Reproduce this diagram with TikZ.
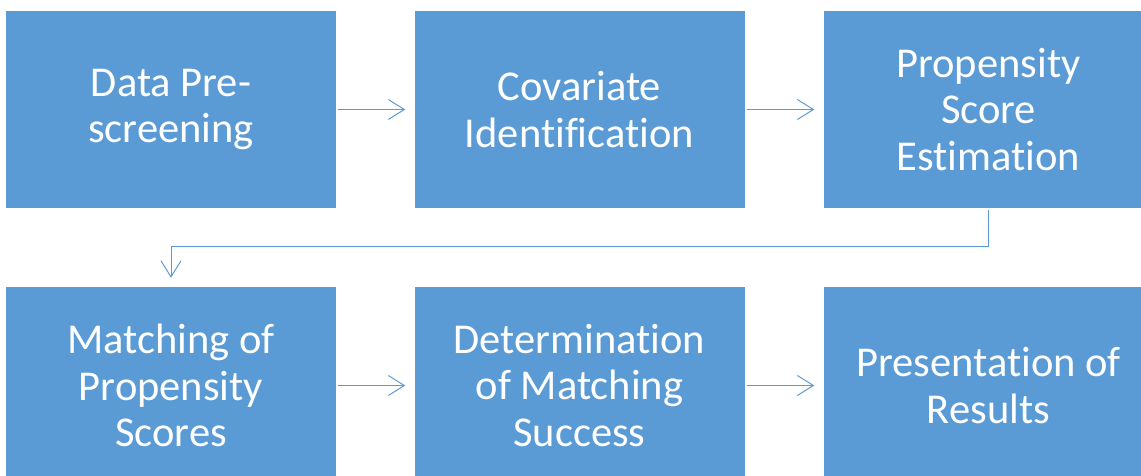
\documentclass[tikz,border=0pt]{standalone}
\usepackage{fontspec}
\setmainfont[Ligatures=NoCommon]{Carlito}
\usetikzlibrary{arrows.meta}
\definecolor{officeblue}{HTML}{5B9BD5}
\tikzset{
  stepbox/.style={rectangle, fill=officeblue, draw=none, inner sep=0pt,
    minimum width=330pt, minimum height=197pt, text=white, align=center,
    font=\fontsize{42.5}{46.5}\selectfont},
  conn/.style={draw=officeblue, line width=1pt,
    -{Straight Barb[length=16pt,width=20pt,line width=1pt]}}
}
\begin{document}
\begin{tikzpicture}[x=1pt,y=1pt]
\useasboundingbox (0,0) rectangle (1141,-475);
\begin{scope}
\clip (0,0) rectangle (1141,-475);
\node[stepbox] (b1) at (171,-109.5) {Data Pre-\\screening};
\node[stepbox] (b2) at (579.5,-109.5) {Covariate\\Identification};
\node[stepbox] (b3) at (988.5,-109.5) {Propensity\\Score\\Estimation};
\node[stepbox] (b4) at (171,-385.5) {Matching of\\Propensity\\Scores};
\node[stepbox] (b5) at (579.5,-385.5) {Determination\\of Matching\\Success};
\node[stepbox] (b6) at (988.5,-385.5) {Presentation of\\Results};
\end{scope}
\draw[conn] ([xshift=2pt]b1.east) -- ([xshift=-9pt]b2.west);
\draw[conn] ([xshift=2pt]b2.east) -- ([xshift=-9pt]b3.west);
\draw[conn] ([yshift=-2pt]b3.south) |- ([yshift=40pt]b4.north) -- ([yshift=9pt]b4.north);
\draw[conn] ([xshift=2pt]b4.east) -- ([xshift=-9pt]b5.west);
\draw[conn] ([xshift=2pt]b5.east) -- ([xshift=-9pt]b6.west);
\end{tikzpicture}
\end{document}
